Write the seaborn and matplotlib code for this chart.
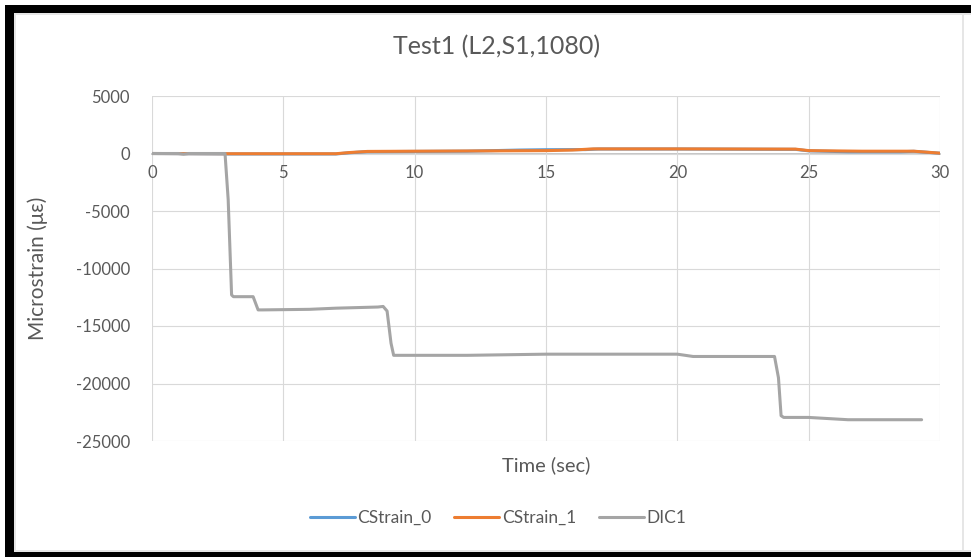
import pandas as pd
import numpy as np
import matplotlib.pyplot as plt
import matplotlib.patches as mpatches
import seaborn as sns

sns.set_theme(style="whitegrid")
plt.rcParams['font.family'] = ['Lato', 'DejaVu Sans']
plt.rcParams['axes.unicode_minus'] = False

# values
dic1_t = [0, 1.0, 1.2, 1.4, 2.78, 2.9, 3.03, 3.1, 3.85, 4.04, 4.2, 6.0, 7.0, 8.6, 8.8, 8.95,
          9.1, 9.2, 12.0, 15.0, 20.0, 20.6, 23.7, 23.85, 23.95, 24.05, 25.0, 26.5, 29.3]
dic1_y = [0, 0, -60, 0, 0, -4000, -12300, -12450, -12450, -13600, -13600, -13550, -13450, -13350,
          -13300, -13700, -16500, -17550, -17550, -17450, -17450, -17650, -17650, -19500, -22800,
          -22950, -22950, -23150, -23150]

cs1_t = [0, 3.0, 7.0, 7.5, 8.2, 12.0, 15.0, 16.0, 16.8, 20.0, 24.5, 25.0, 27.0, 29.0, 30.0]
cs1_y = [0, -20, -20, 80, 180, 220, 250, 300, 400, 400, 380, 250, 200, 200, 30]

cs0_t = [0, 3.0, 7.0, 7.5, 8.2, 12.0, 14.0, 15.0, 16.5, 17.0, 20.0, 24.5, 25.0, 26.5, 28.5, 29.0, 30.0]
cs0_y = [0, -40, -40, 60, 160, 200, 300, 330, 340, 390, 390, 360, 230, 150, 150, 190, 20]

series = pd.concat([
    pd.DataFrame({'t': cs0_t, 'y': cs0_y, 'name': 'CStrain_0'}),
    pd.DataFrame({'t': cs1_t, 'y': cs1_y, 'name': 'CStrain_1'}),
    pd.DataFrame({'t': dic1_t, 'y': dic1_y, 'name': 'DIC1'}),
])
colors = {'CStrain_0': '#5b9bd5', 'CStrain_1': '#ed7d31', 'DIC1': '#a5a5a5'}
txt = '#595959'

fig = plt.figure(figsize=(9.71, 5.57), dpi=100)
ax = fig.add_axes([152 / 971, 1 - 441 / 557, (940 - 152) / 971, (441 - 96) / 557])

sns.lineplot(data=series, x='t', y='y', hue='name', palette=colors, linewidth=2.2,
             sort=False, estimator=None, ax=ax, legend=False)

ax.set_xlim(0, 30)
ax.set_ylim(-25000, 5000)
ax.set_xticks(range(0, 31, 5))
ax.set_yticks(range(-25000, 5001, 5000))
ax.grid(True, color='#d9d9d9', linewidth=0.8)
ax.set_facecolor('white')
for s in ['top', 'right', 'left']:
    ax.spines[s].set_visible(False)
ax.spines['bottom'].set_position(('data', 0))
ax.spines['bottom'].set_color('#bfbfbf')
ax.spines['bottom'].set_zorder(0)
ax.tick_params(length=0, labelsize=12, colors=txt)
ax.tick_params(axis='x', pad=8)
ax.tick_params(axis='y', pad=16)

fig.text(497 / 971, 1 - 47 / 557, 'Test1 (L2,S1,1080)', fontsize=18, color=txt,
         ha='center', va='center')
ax.set_ylabel('Microstrain (με)', fontsize=15, color=txt)
ax.yaxis.set_label_coords(-0.132, 0.5)
ax.set_xlabel('Time (sec)', fontsize=14.5, color=txt)
ax.xaxis.set_label_coords(0.5, -0.045)

handles = [plt.Line2D([], [], color=colors[n], linewidth=2.2) for n in colors]
fig.legend(handles, list(colors), loc='center', bbox_to_anchor=(498 / 971, 1 - 518 / 557),
           ncol=3, frameon=False, fontsize=12.5, handlelength=2.6, handletextpad=0.15,
           columnspacing=1.3, labelcolor=txt)

# black frame around the chart (cropped screenshot look)
def px_rect(x0, y0, x1, y1, color):
    fig.patches.append(mpatches.Rectangle((x0 / 971, 1 - y1 / 557), (x1 - x0) / 971, (y1 - y0) / 557,
                                          transform=fig.transFigure, facecolor=color,
                                          edgecolor='none', zorder=10))

px_rect(5, 5, 971, 13, 'black')
px_rect(5, 5, 14, 557, 'black')
px_rect(5, 552, 971, 557, 'black')
px_rect(14, 13, 971, 15, '#e6e6e6')
px_rect(14, 13, 16, 552, '#e6e6e6')
px_rect(14, 550, 971, 552, '#e6e6e6')
px_rect(962, 13, 964, 552, '#e6e6e6')

fig.savefig('out.png', dpi=100)
